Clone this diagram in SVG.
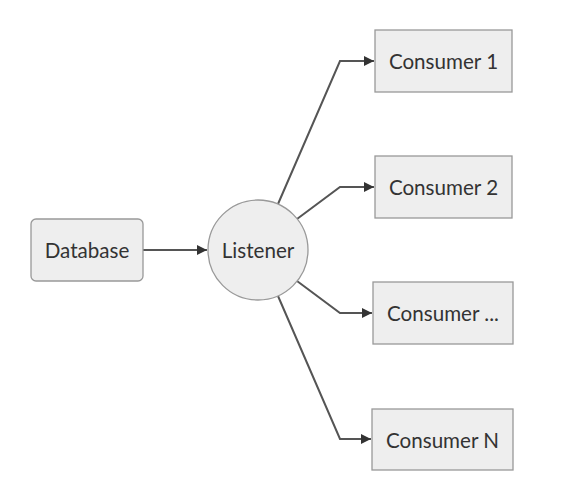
<svg xmlns="http://www.w3.org/2000/svg" width="566" height="494" viewBox="0 0 566 494">
<defs>
<style>
.node{fill:#eeeeee;stroke:#999999;stroke-width:1.3}
.lbl{font-family:Lato,"Liberation Sans",sans-serif;font-size:20.6px;fill:#333333;text-anchor:middle;dominant-baseline:central}
.edge{fill:none;stroke:#555555;stroke-width:2}
</style>
<marker id="ah" viewBox="0 0 10 10" refX="10" refY="5" markerWidth="10" markerHeight="10" markerUnits="userSpaceOnUse" orient="auto">
<path d="M0,0 L10,5 L0,10 z" fill="#333333"/>
</marker>
</defs>
<rect width="566" height="494" fill="#ffffff"/>
<g id="connectors">
<path class="edge" d="M143,250 L207,250" marker-end="url(#ah)"/>
<path class="edge" d="M278,204 L340,61 L374,61" marker-end="url(#ah)"/>
<path class="edge" d="M297,219 L340,187 L374,187" marker-end="url(#ah)"/>
<path class="edge" d="M297,281 L340,313 L372,313" marker-end="url(#ah)"/>
<path class="edge" d="M278,296 L340,439 L371,439" marker-end="url(#ah)"/>
</g>
<g id="database">
<rect class="node" x="31" y="219" width="112" height="62" rx="5"/>
<text class="lbl" x="87" y="250">Database</text>
</g>
<g id="listener">
<circle class="node" cx="258" cy="250" r="50"/>
<text class="lbl" x="258" y="250">Listener</text>
</g>
<g id="consumer1">
<rect class="node" x="375" y="30" width="137" height="62"/>
<text class="lbl" x="443.5" y="61">Consumer 1</text>
</g>
<g id="consumer2">
<rect class="node" x="375" y="156" width="137" height="62"/>
<text class="lbl" x="443.5" y="187">Consumer 2</text>
</g>
<g id="consumer3">
<rect class="node" x="373" y="282" width="140" height="62"/>
<text class="lbl" x="443" y="313">Consumer ...</text>
</g>
<g id="consumerN">
<rect class="node" x="372" y="409" width="141" height="61"/>
<text class="lbl" x="442.5" y="439.5">Consumer N</text>
</g>
</svg>
